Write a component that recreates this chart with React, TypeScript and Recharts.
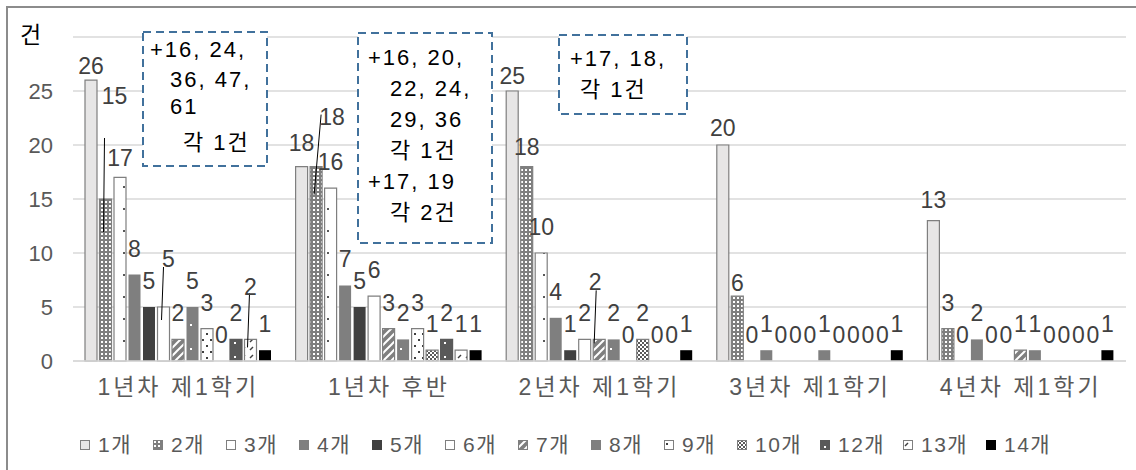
import React from 'react';
import { BarChart, Bar, XAxis, YAxis, CartesianGrid, Legend, LabelList, Rectangle } from 'recharts';

const categories = ['1년차 제1학기', '1년차 후반', '2년차 제1학기', '3년차 제1학기', '4년차 제1학기'];
const seriesNames = ['1개', '2개', '3개', '4개', '5개', '6개', '7개', '8개', '9개', '10개', '12개', '13개', '14개'];

const count1 = [26, 18, 25, 20, 13];
const count2 = [15, 18, 18, 6, 3];
const count3 = [17, 16, 10, 0, 0];
const count4 = [8, 7, 4, 1, 2];
const count5 = [5, 5, 1, 0, 0];
const count6 = [5, 6, 2, 0, 0];
const count7 = [2, 3, 2, 0, 1];
const count8 = [5, 2, 2, 1, 1];
const count9 = [3, 3, 0, 0, 0];
const count10 = [0, 1, 2, 0, 0];
const count12 = [2, 2, 0, 0, 0];
const count13 = [2, 1, 0, 0, 0];
const count14 = [1, 1, 1, 1, 1];

const yTicks = [0, 5, 10, 15, 20, 25, 30];

// extra cases written in the dashed boxes
const note1 = ['+16, 24,', '36, 47,', '61', '각 1건'];
const note2 = ['+16, 20,', '22, 24,', '29, 36', '각 1건', '+17, 19', '각 2건'];
const note3 = ['+17, 18,', '각 1건'];

const seriesValues = [count1, count2, count3, count4, count5, count6, count7, count8, count9, count10, count12, count13, count14];

const data = categories.map((name, i) => {
  const row: Record<string, string | number> = { name };
  seriesValues.forEach((vals, s) => {
    row[`s${s}`] = vals[i];
  });
  return row;
});

const FONT = '"Liberation Sans", "Noto Sans CJK KR", sans-serif';
const GRID = '#d9d9d9';

const barStyles: { fill: string; stroke?: string }[] = [
  { fill: '#e7e6e6', stroke: '#7f7f7f' },
  { fill: 'url(#p-grid)', stroke: '#7f7f7f' },
  { fill: 'url(#p-sparse)', stroke: '#7f7f7f' },
  { fill: '#7f7f7f' },
  { fill: '#404040' },
  { fill: '#ffffff', stroke: '#7f7f7f' },
  { fill: 'url(#p-hatch)', stroke: '#7f7f7f' },
  { fill: 'url(#p-graydot)' },
  { fill: 'url(#p-dots)', stroke: '#7f7f7f' },
  { fill: 'url(#p-check)', stroke: '#7f7f7f' },
  { fill: 'url(#p-darkdot)', stroke: '#595959' },
  { fill: 'url(#p-diag)', stroke: '#7f7f7f' },
  { fill: '#000000' },
];

// label nudges, key = series-category; line = [x1, y1 from label centre, x2, y2 from bar top centre]
type Tweak = { dx?: number; dy?: number; line?: [number, number, number, number] };
const labelTweaks: Record<string, Tweak> = {
  '0-0': { dy: 12 },
  '2-0': { dy: 7 },
  '1-0': { dx: 9, dy: -77, line: [-10, 42, -2, 33] },
  '5-0': { dx: 5, dy: -22, line: [-5, 8, -2, 13] },
  '11-0': { dy: -26, line: [-1, 6, -3, 8] },
  '0-1': { dy: 2 },
  '1-1': { dx: 16, dy: -24, line: [-11, -2, -2, 28] },
  '0-2': { dy: 11 },
  '1-2': { dy: 6 },
  '6-2': { dx: -4, dy: -31, line: [1, 8, -5, 4] },
  '0-3': { dy: 9 },
  '1-3': { dy: 13 },
  '0-4': { dy: 5 },
};

function makeLabel(s: number) {
  return (props: any) => {
    const vb = props.viewBox ?? props;
    const bx = Number(vb.x) + Number(vb.width) / 2;
    const top = Number(vb.y);
    const t = labelTweaks[`${s}-${props.index}`] ?? {};
    const cx = bx + (t.dx ?? 0);
    const cy = top - 26 + (t.dy ?? 0);
    return (
      <g>
        {t.line && (
          <line x1={cx + t.line[0]} y1={cy + t.line[1]} x2={bx + t.line[2]} y2={top + t.line[3]} stroke="#000" strokeWidth={1} />
        )}
        <text x={cx} y={cy + 8} textAnchor="middle" fontSize={23} fill="#404040" fontFamily={FONT}>
          {String(props.value)}
        </text>
      </g>
    );
  };
}

// zero bars get a hair-thin rect so their labels still show; the rect itself is not drawn
function BarShape(props: any) {
  if (!(Number(props.height) >= 0.5)) return <g />;
  return <Rectangle {...props} />;
}

function LegendContent() {
  return (
    <div style={{ display: 'flex', fontFamily: FONT }}>
      {seriesNames.map((n, i) => (
        <div key={n} style={{ display: 'flex', alignItems: 'center', width: n.length > 2 ? 83 : 73 }}>
          <svg width={10} height={10}>
            <rect x={0.5} y={0.5} width={9} height={9} fill={barStyles[i].fill} stroke={barStyles[i].stroke ?? barStyles[i].fill} />
          </svg>
          <span style={{ marginLeft: 8, fontSize: 21, color: '#595959', letterSpacing: 1.5, lineHeight: '22px' }}>{n}</span>
        </div>
      ))}
    </div>
  );
}

function Patterns() {
  return (
    <svg width={0} height={0} style={{ position: 'absolute' }}>
      <defs>
        <pattern id="p-grid" width="4" height="4" patternUnits="userSpaceOnUse">
          <rect width="4" height="4" fill="#7f7f7f" />
          <rect x="1" y="1" width="2" height="2" fill="#ffffff" />
        </pattern>
        <pattern id="p-sparse" width="12" height="22" patternUnits="userSpaceOnUse">
          <rect width="12" height="22" fill="#ffffff" />
          <rect x="3" y="10" width="2" height="2" fill="#595959" />
        </pattern>
        <pattern id="p-hatch" width="8" height="8" patternUnits="userSpaceOnUse">
          <rect width="8" height="8" fill="#7f7f7f" />
          <path d="M0,8 L8,0 M-2,2 L2,-2 M6,10 L10,6" stroke="#ffffff" strokeWidth="2" />
        </pattern>
        <pattern id="p-graydot" width="14" height="24" patternUnits="userSpaceOnUse">
          <rect width="14" height="24" fill="#7f7f7f" />
          <rect x="8" y="12" width="2" height="2" fill="#ffffff" />
        </pattern>
        <pattern id="p-dots" width="8" height="12" patternUnits="userSpaceOnUse">
          <rect width="8" height="12" fill="#ffffff" />
          <rect x="2" y="3" width="2" height="2" fill="#404040" />
          <rect x="6" y="9" width="2" height="2" fill="#404040" />
        </pattern>
        <pattern id="p-check" width="4" height="4" patternUnits="userSpaceOnUse">
          <rect width="4" height="4" fill="#ffffff" />
          <rect width="2" height="2" fill="#595959" />
          <rect x="2" y="2" width="2" height="2" fill="#595959" />
        </pattern>
        <pattern id="p-darkdot" width="10" height="14" patternUnits="userSpaceOnUse">
          <rect width="10" height="14" fill="#595959" />
          <rect x="4" y="6" width="2" height="2" fill="#ffffff" />
        </pattern>
        <pattern id="p-diag" width="8" height="8" patternUnits="userSpaceOnUse">
          <rect width="8" height="8" fill="#ffffff" />
          <path d="M2,6 L5,3" stroke="#404040" strokeWidth="1.5" />
        </pattern>
      </defs>
    </svg>
  );
}

function NoteBox({ x, y, w, h, lines }: { x: number; y: number; w: number; h: number; lines: { text: string; x: number; y: number }[] }) {
  return (
    <g>
      <rect x={x} y={y} width={w} height={h} fill="#ffffff" stroke="#41719c" strokeWidth={2} strokeDasharray="8 5" />
      {lines.map((l, i) => (
        <text key={i} x={l.x} y={l.y} fontSize={22} fill="#000" fontFamily={FONT} letterSpacing={2}>
          {l.text}
        </text>
      ))}
    </g>
  );
}

export default function App() {
  const box1X = [150, 170, 170, 183];
  const box1Y = [57, 87, 114, 150];
  const box2X = [368, 390, 390, 390, 368, 390];
  const box2Y = [65, 96, 127, 158, 189, 220];
  const box3X = [570, 580];
  const box3Y = [66, 97];
  return (
    <div style={{ position: 'absolute', left: 0, top: 0, width: 1136, height: 470, background: '#fff', overflow: 'hidden' }}>
      <Patterns />
      <div style={{ position: 'absolute', left: 6, top: 6, width: 1200, height: 600, border: '2px solid #8c8c8c' }} />
      <div style={{ position: 'absolute', left: 0, top: 0 }}>
        <BarChart
          width={1136}
          height={470}
          data={data}
          margin={{ top: 37, right: 10, left: 0, bottom: 79 }}
          barCategoryGap={12}
          barGap={2.5}
        >
          <CartesianGrid vertical={false} stroke={GRID} strokeWidth={1.5} />
          <XAxis
            dataKey="name"
            height={30}
            interval={0}
            tickLine={false}
            tickSize={0}
            tickMargin={18}
            axisLine={{ stroke: GRID, strokeWidth: 1.5 }}
            tick={{ fontSize: 23, fill: '#595959', fontFamily: FONT, letterSpacing: 3 }}
          />
          <YAxis
            width={73}
            domain={[0, 30]}
            ticks={yTicks}
            interval={0}
            tickLine={false}
            axisLine={false}
            tickSize={0}
            tickMargin={20}
            tickFormatter={(v: number) => (v === 30 ? '' : String(v))}
            tick={{ fontSize: 22, fill: '#595959', fontFamily: FONT }}
          />
          <Legend
            verticalAlign="middle"
            align="center"
            layout="horizontal"
            content={<LegendContent />}
            wrapperStyle={{ top: 434, left: 80, width: 1000 }}
          />
          {seriesNames.map((n, s) => (
            <Bar
              key={n}
              dataKey={`s${s}`}
              name={n}
              fill={barStyles[s].fill}
              stroke={barStyles[s].stroke}
              strokeWidth={barStyles[s].stroke ? 1.2 : 0}
              minPointSize={(v: any) => (Number(v) === 0 ? 0.01 : 0)}
              shape={BarShape}
              isAnimationActive={false}
            >
              <LabelList dataKey={`s${s}`} content={makeLabel(s)} />
            </Bar>
          ))}
        </BarChart>
      </div>
      <svg width={1136} height={470} style={{ position: 'absolute', left: 0, top: 0, pointerEvents: 'none' }}>
        <text x={20} y={43} fontSize={23} fill="#000" fontFamily={FONT}>
          건
        </text>
        <NoteBox x={143} y={32} w={124} h={134} lines={note1.map((t, i) => ({ text: t, x: box1X[i], y: box1Y[i] }))} />
        <NoteBox x={358} y={33} w={134} h={210} lines={note2.map((t, i) => ({ text: t, x: box2X[i], y: box2Y[i] }))} />
        <NoteBox x={559} y={35} w={128} h={79} lines={note3.map((t, i) => ({ text: t, x: box3X[i], y: box3Y[i] }))} />
      </svg>
    </div>
  );
}
